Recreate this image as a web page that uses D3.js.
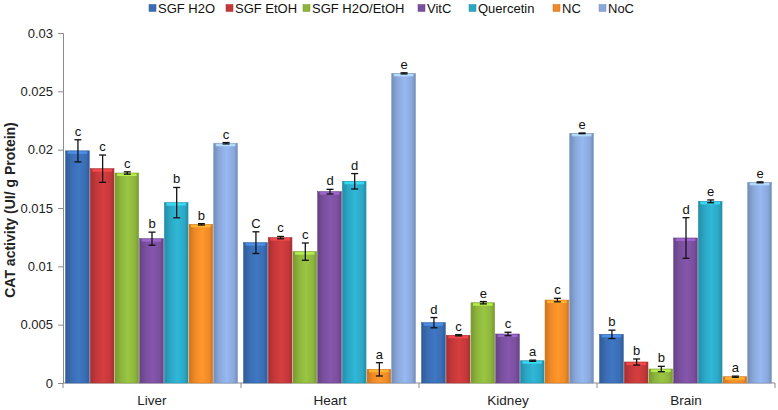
<!DOCTYPE html>
<html><head><meta charset="utf-8">
<script src="https://cdn.jsdelivr.net/npm/d3@7"></script>
<style>body{margin:0;background:#fff}svg{display:block}text{font-family:"Liberation Sans",Arial,sans-serif}</style>
</head><body><svg id="c" width="778" height="410"></svg>
<script>
const categories = ["Liver","Heart","Kidney","Brain"];
const series = ["SGF H2O","SGF EtOH","SGF H2O/EtOH","VitC","Quercetin","NC","NoC"];
const colors = ["#3a6db3","#c4383a","#8db53c","#7a4f9e","#2ba7c5","#f08a26","#8aa8dc"];
const values = [
  [0.0199,0.01837,0.0180,0.01237,0.01546,0.0136,0.02055],
  [0.01203,0.01246,0.01126,0.0164,0.01729,0.00117,0.02654],
  [0.00517,0.00409,0.00688,0.0042,0.00191,0.00711,0.0214],
  [0.00417,0.0018,0.0012,0.01243,0.01557,0.00054,0.0172]
];
const errors = [
  [0.00095,0.00117,0.0001,0.00056,0.0013,0.00006,0.00006],
  [0.00093,0.0001,0.00074,0.0002,0.00066,0.00057,0.00005],
  [0.00044,0.00005,0.0001,0.00015,0.00005,0.00015,0.00003],
  [0.00036,0.00026,0.00023,0.00174,0.00012,0.00005,0.00004]
];
const letters = [
  ["c","c","c","b","b","b","c"],
  ["C","c","c","d","d","a","e"],
  ["d","c","e","c","a","c","e"],
  ["b","b","b","d","e","a","e"]
];
const yTicks = [0,0.005,0.01,0.015,0.02,0.025,0.03];
const yTickLabels = ["0","0.005","0.01","0.015","0.02","0.025","0.03"];

const svg = d3.select("#c");
const m = {l:63, r:775, t:33, b:383};
const x0 = d3.scaleBand().domain(categories).range([m.l,m.r]).paddingInner(0).paddingOuter(0);
const x1 = d3.scaleBand().domain(series).range([0,x0.bandwidth()]).paddingOuter(0.105).paddingInner(0);
const y = d3.scaleLinear().domain([0,0.03]).range([m.b,m.t]);

const defs = svg.append("defs");
colors.forEach((c,i)=>{
  const g = defs.append("linearGradient").attr("id","g"+i).attr("x1","0").attr("x2","1").attr("y1","0").attr("y2","0");
  const dc = d3.color(c).darker(0.5), lc = d3.color(c).brighter(0.25);
  g.append("stop").attr("offset","0%").attr("stop-color",dc);
  g.append("stop").attr("offset","25%").attr("stop-color",c);
  g.append("stop").attr("offset","55%").attr("stop-color",lc);
  g.append("stop").attr("offset","85%").attr("stop-color",c);
  g.append("stop").attr("offset","100%").attr("stop-color",dc);
});

// axes
const yAxis = d3.axisLeft(y).tickValues(yTicks).tickFormat((d,i)=>yTickLabels[i]).tickSize(5).tickPadding(5);
const ya = svg.append("g").attr("transform",`translate(${m.l},0)`).call(yAxis);
ya.selectAll("path,line").attr("stroke","#8c8c8c");
ya.selectAll("text").attr("font-size","13px").attr("fill","#222");

const xa = svg.append("g").attr("transform",`translate(0,${m.b})`);
xa.append("line").attr("x1",m.l).attr("x2",m.r).attr("stroke","#8c8c8c");
const bounds = categories.map(c=>x0(c)).concat([m.r]);
xa.selectAll("line.t").data(bounds).join("line").attr("class","t")
  .attr("x1",d=>d).attr("x2",d=>d).attr("y1",0).attr("y2",5).attr("stroke","#8c8c8c");
xa.selectAll("text").data(categories).join("text")
  .attr("x",d=>x0(d)+x0.bandwidth()/2).attr("y",22).attr("text-anchor","middle")
  .attr("font-size","13.5px").attr("fill","#222").text(d=>d);

svg.append("text").attr("transform",`translate(15,${(m.t+m.b)/2+2}) rotate(-90)`)
  .attr("text-anchor","middle").attr("font-size","14px").attr("font-weight","bold").attr("fill","#222")
  .text("CAT activity (UI/ g Protein)");

// bars
const grp = svg.selectAll("g.cat").data(categories).join("g").attr("class","cat")
  .attr("transform",d=>`translate(${x0(d)},0)`);
grp.each(function(cat,ci){
  const g = d3.select(this);
  const rows = series.map((s,si)=>({s,si,v:values[ci][si],e:errors[ci][si],l:letters[ci][si]}));
  g.selectAll("rect").data(rows).join("rect")
    .attr("x",d=>x1(d.s)).attr("width",x1.bandwidth()-1)
    .attr("y",d=>y(d.v)).attr("height",d=>y(0)-y(d.v))
    .attr("fill",d=>`url(#g${d.si})`).attr("stroke",d=>d3.color(colors[d.si]).darker(0.3)).attr("stroke-width",0.6);
  g.selectAll("rect.top").data(rows).join("rect").attr("class","top")
    .attr("x",d=>x1(d.s)+2).attr("width",x1.bandwidth()-5)
    .attr("y",d=>y(d.v)+0.5).attr("height",2.5)
    .attr("fill",d=>d3.color(colors[d.si]).brighter(0.9)).attr("opacity",0.8);
  const eb = g.selectAll("g.eb").data(rows).join("g").attr("class","eb");
  eb.append("line").attr("x1",d=>x1(d.s)+x1.bandwidth()/2).attr("x2",d=>x1(d.s)+x1.bandwidth()/2)
    .attr("y1",d=>y(d.v+d.e)).attr("y2",d=>y(d.v-d.e)).attr("stroke","#111").attr("stroke-width",1.3);
  ["+","-"].forEach(sg=>{
    eb.append("line").attr("x1",d=>x1(d.s)+x1.bandwidth()/2-3.5).attr("x2",d=>x1(d.s)+x1.bandwidth()/2+3.5)
      .attr("y1",d=>y(sg==="+"?d.v+d.e:d.v-d.e)).attr("y2",d=>y(sg==="+"?d.v+d.e:d.v-d.e))
      .attr("stroke","#111").attr("stroke-width",1.3);
  });
  g.selectAll("text.lab").data(rows).join("text").attr("class","lab")
    .attr("x",d=>x1(d.s)+x1.bandwidth()/2).attr("y",d=>y(d.v+d.e)-4)
    .attr("text-anchor","middle").attr("font-size","13px").attr("fill","#111").text(d=>d.l);
});

// legend
const legX = [149,226,303,418,469,553,599];
const lg = svg.selectAll("g.leg").data(series).join("g").attr("class","leg")
  .attr("transform",(d,i)=>`translate(${legX[i]},3)`);
lg.append("rect").attr("width",7).attr("height",7).attr("y",1.5)
  .attr("fill",(d,i)=>colors[i]).attr("stroke",(d,i)=>d3.color(colors[i]).darker(0.5)).attr("stroke-width",0.5);
lg.append("text").attr("x",9).attr("y",9.5).attr("font-size","13px").attr("fill","#111").text(d=>d);
</script></body></html>
